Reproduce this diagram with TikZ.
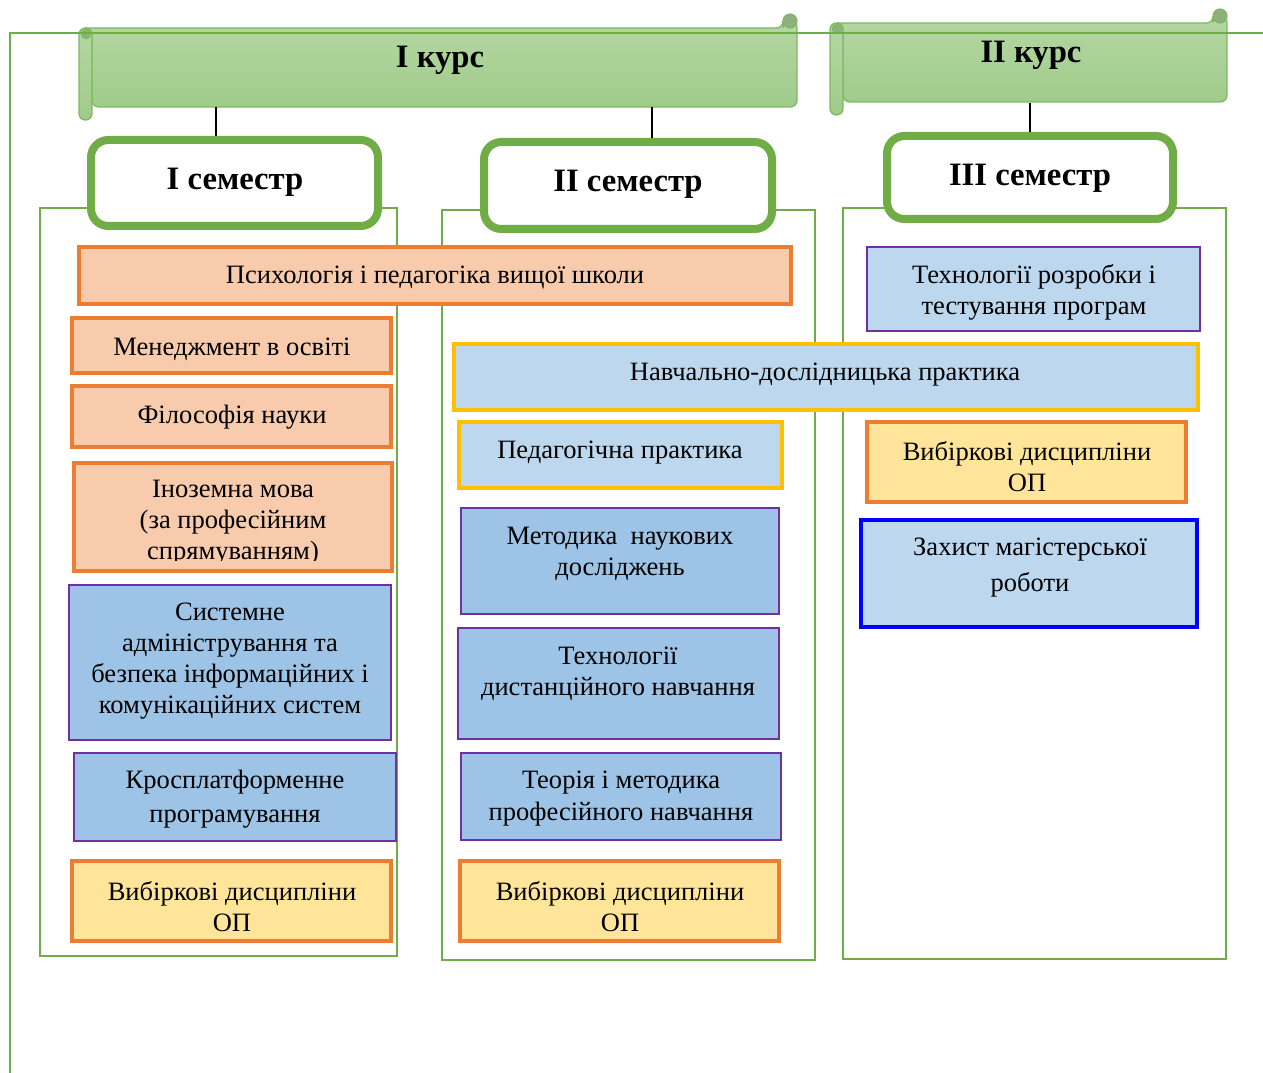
\documentclass[tikz,border=0pt]{standalone}
\usepackage{fontspec}
\setmainfont{Liberation Serif}
\definecolor{gline}{HTML}{70AD47}
\definecolor{bnborder}{HTML}{7FB961}
\definecolor{bntop}{HTML}{B4D7A4}
\definecolor{bnbot}{HTML}{A0CB8A}
\definecolor{bndark}{HTML}{8FB07E}
\definecolor{orfill}{HTML}{F8CBAD}
\definecolor{orline}{HTML}{ED7D31}
\definecolor{yefill}{HTML}{FFE599}
\definecolor{lbfill}{HTML}{BDD7EE}
\definecolor{mbfill}{HTML}{9DC3E6}
\definecolor{purp}{HTML}{7030A0}
\definecolor{goldc}{HTML}{FFC000}
\definecolor{pureblue}{HTML}{0000FF}
\tikzset{
 colframe/.style={draw=gline, line width=2.1pt},
 sembox/.style={draw=gline, line width=6pt, rounded corners=13pt, fill=white},
 orbox/.style={draw=orline, fill=orfill, line width=2.3pt},
 yebox/.style={draw=orline, fill=yefill, line width=2.3pt},
 pmbox/.style={draw=purp, fill=mbfill, line width=2.1pt},
 plbox/.style={draw=purp, fill=lbfill, line width=2.1pt},
 goldbox/.style={draw=goldc, fill=lbfill, line width=2.3pt},
 blubox/.style={draw=pureblue, fill=lbfill, line width=2.3pt},
 txt/.style={inner sep=0pt, align=center, yshift=-2.2pt, font=\fontsize{19.9}{23.3}\selectfont},
 hdr/.style={inner sep=0pt, yshift=-3pt, font=\fontsize{24.5}{29}\selectfont\bfseries},
 conn/.style={draw=black, line width=1.3pt},
 roll/.style={draw=bnborder, line width=1pt, top color=bntop, bottom color=bnbot},
 curl/.style={draw=bnborder, line width=1pt, fill=bndark},
}
\newcommand\bx[6]{\node[#6, minimum width={(#4-#2)*0.75pt}, minimum height={(#5-#3)*0.75pt}, inner sep=0pt] (#1) at ({(#2+#4)/2},{(#3+#5)/2}) {};}
\begin{document}
\begin{tikzpicture}[x=0.75pt, y=-0.75pt]
\useasboundingbox (0,0) rectangle (1263,1073);
% column frames
\bx{c1}{40}{208}{397}{956}{colframe}
\bx{c2}{442}{210}{815}{960}{colframe}
\bx{c3}{843}{208}{1226}{959}{colframe}
% banner I kurs
\path[roll, rounded corners=5pt] (86,28) -- (783,28) -- (783,21) -- (797,21) -- (797,107) -- (92,107) -- (92,28) -- cycle;
\path[curl] (790,21) circle[radius=5.2pt];
\path[roll, rounded corners=4.8pt] (79,28) rectangle (92,120);
\path[curl] (86,34) circle[radius=3.5pt];
% banner II kurs
\path[roll, rounded corners=5pt] (837,23) -- (1213,23) -- (1213,16) -- (1227,16) -- (1227,102) -- (843,102) -- (843,23) -- cycle;
\path[curl] (1220,16) circle[radius=5.2pt];
\path[roll, rounded corners=4.8pt] (830,23) rectangle (843,115);
\path[curl] (837,29) circle[radius=3.5pt];
% outer line
\coordinate (o1) at (10,1073);
\coordinate (o2) at (10,33);
\coordinate (o3) at (1263,33);
\draw[gline, line width=2.1pt] (o1) -- (o2) -- (o3);
\node[hdr] (k1t) at (440,56) {I курс};
\node[hdr] (k2t) at (1031,51) {II курс};
% semester boxes
\bx{s1}{91}{140}{378}{226}{sembox}
\bx{s2}{484}{142}{772}{229}{sembox}
\bx{s3}{887}{136}{1173}{219}{sembox}
\node[hdr] (s1t) at (235,178) {I семестр};
\node[hdr] (s2t) at (628,180) {II семестр};
\node[hdr] (s3t) at (1030,174) {III семестр};
\coordinate (k1) at (216,107);
\coordinate (k2) at (652,107);
\coordinate (k3) at (1030,103);
\draw[conn] (k1) -- (k1 |- s1.north);
\draw[conn] (k2) -- (k2 |- s2.north);
\draw[conn] (k3) -- (k3 |- s3.north);
% column 1
\bx{a1}{79}{247}{791}{304}{orbox}
\bx{a2}{72}{318}{391}{373}{orbox}
\bx{a3}{72}{386}{391}{447}{orbox}
\bx{a4}{74}{463}{392}{571}{orbox}
\bx{a5}{69}{585}{391}{740}{pmbox}
\bx{a6}{74}{753}{396}{841}{pmbox}
\bx{a7}{72}{861}{391}{941}{yebox}
\node[txt] (a1t) at (435,275) {Психологія і педагогіка вищої школи};
\node[txt] (a2t) at (232,346) {Менеджмент в освіті};
\node[txt] (a3t) at (232,414) {Філософія науки};
\begin{scope}
\clip (74,463) rectangle (392,560);
\node[txt] (a4t) at (233,520) {Іноземна мова\\(за професійним\\спрямуванням)};
\end{scope}
\node[txt] (a5t) at (230,658) {Системне\\адміністрування та\\безпека інформаційних і\\комунікаційних систем};
\node[txt, font=\fontsize{19.9}{25.5}\selectfont] (a6t) at (235,796) {Кросплатформенне\\програмування};
\node[txt] (a7t) at (232,904) {Вибіркові дисципліни\\ОП};
% column 2
\bx{b1}{454}{344}{1198}{410}{goldbox}
\bx{b2}{459}{422}{782}{488}{goldbox}
\bx{b3}{461}{508}{779}{614}{pmbox}
\bx{b4}{458}{628}{779}{739}{pmbox}
\bx{b5}{461}{753}{781}{840}{pmbox}
\bx{b6}{460}{861}{779}{941}{yebox}
\node[txt] (b1t) at (825,372) {Навчально-дослідницька практика};
\node[txt] (b2t) at (620,450) {Педагогічна практика};
\node[txt] (b3t) at (620,551) {Методика\ \ наукових\\досліджень};
\node[txt] (b4t) at (618,671) {Технології\\дистанційного навчання};
\node[txt, font=\fontsize{19.9}{24}\selectfont] (b5t) at (621,796) {Теорія і методика\\професійного навчання};
\node[txt] (b6t) at (620,904) {Вибіркові дисципліни\\ОП};
% column 3
\bx{d1}{867}{247}{1200}{331}{plbox}
\bx{d2}{867}{422}{1186}{502}{yebox}
\bx{d3}{861}{520}{1197}{627}{blubox}
\node[txt] (d1t) at (1034,289) {Технології розробки і\\тестування програм};
\node[txt] (d2t) at (1027,464) {Вибіркові дисципліни\\ОП};
\node[txt, font=\fontsize{19.9}{27}\selectfont] (d3t) at (1030,565) {Захист магістерської\\роботи};
\end{tikzpicture}
\end{document}
